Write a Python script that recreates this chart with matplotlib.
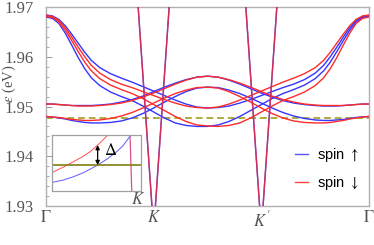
import matplotlib
matplotlib.use("Agg")
import matplotlib.pyplot as plt

plt.rcParams['mathtext.fontset'] = 'stix'
plt.rcParams['font.family'] = ['Liberation Serif', 'DejaVu Serif']

# ---------------- data ----------------
# k path: Gamma=0, K=1, K'=2, Gamma=3 ; left half of the path (0 .. 1.5)
k_half = [0.0, 0.06, 0.12, 0.18, 0.24, 0.30, 0.36, 0.42, 0.5, 0.6, 0.7,
          0.8, 0.9, 1.0, 1.1, 1.2, 1.3, 1.4, 1.5]

# spin-up (blue) bands on the left half
up_b1 = [1.9684, 1.9682, 1.9675, 1.9662, 1.9645, 1.9627, 1.9609, 1.9593, 1.9578, 1.9566,
         1.9557, 1.9549, 1.9540, 1.9531, 1.9522, 1.9513, 1.9505, 1.9499, 1.9497]
up_b2 = [1.9680, 1.9677, 1.9667, 1.9647, 1.9623, 1.9598, 1.9576, 1.9558, 1.9542, 1.9529,
         1.9520, 1.9512, 1.9501, 1.9489, 1.9477, 1.9467, 1.9462, 1.9460, 1.9460]
up_b3 = [1.9505, 1.9505, 1.9504, 1.9503, 1.9502, 1.9502, 1.9502, 1.9502, 1.9503, 1.9505,
         1.9509, 1.9514, 1.9521, 1.9530, 1.9539, 1.9547, 1.9554, 1.9559, 1.9561]
up_b4 = [1.9480, 1.9479, 1.9477, 1.9475, 1.9472, 1.9470, 1.9468, 1.9467, 1.9467, 1.9468,
         1.9471, 1.9477, 1.9486, 1.9497, 1.9509, 1.9520, 1.9530, 1.9537, 1.9539]
# spin-down (red) bands on the left half
dn_b1 = [1.9683, 1.9681, 1.9673, 1.9658, 1.9639, 1.9619, 1.9600, 1.9583, 1.9567, 1.9554,
         1.9545, 1.9538, 1.9530, 1.9522, 1.9514, 1.9507, 1.9501, 1.9498, 1.9497]
dn_b2 = [1.9681, 1.9679, 1.9670, 1.9653, 1.9632, 1.9610, 1.9589, 1.9572, 1.9556, 1.9543,
         1.9534, 1.9526, 1.9516, 1.9504, 1.9492, 1.9480, 1.9470, 1.9463, 1.9461]
dn_b3 = [1.9505, 1.9505, 1.9504, 1.9503, 1.9502, 1.9501, 1.9501, 1.9501, 1.9502, 1.9504,
         1.9507, 1.9512, 1.9519, 1.9527, 1.9536, 1.9545, 1.9553, 1.9559, 1.9561]
dn_b4 = [1.9480, 1.9479, 1.9478, 1.9476, 1.9474, 1.9473, 1.9472, 1.9472, 1.9473, 1.9476,
         1.9481, 1.9488, 1.9497, 1.9507, 1.9517, 1.9526, 1.9533, 1.9538, 1.9539]

# Dirac-like valley at K and K'
valley_k = [1.0, 2.0]
dirac_dk = [-0.16, 0.0, 0.16]
dirac_e = [1.9750, 1.9250, 1.9750]

fermi_level = 1.9476

tick_pos = [0, 1, 2, 3]
tick_lab = [r'$\Gamma$', r'$K$', r"$K'$", r'$\Gamma$']
y_ticks = [1.93, 1.94, 1.95, 1.96, 1.97]
y_tick_lab = ['1.93', '1.94', '1.95', '1.96', '1.97']
legend_labels = [r'spin $\uparrow$', r'spin $\downarrow$']

# inset (zoom near K), coordinates in inset-frame units
in_red_x = [0.0, 0.12, 0.237, 0.33, 0.427, 0.52, 0.615]
in_red_y = [0.33, 0.42, 0.52, 0.60, 0.70, 0.83, 0.98]
in_blue_x = [0.0, 0.12, 0.237, 0.36, 0.512, 0.62, 0.728, 0.80, 0.879]
in_blue_y = [0.15, 0.19, 0.25, 0.33, 0.46, 0.57, 0.70, 0.81, 0.98]
in_valley_x = [0.878, 0.898]
in_valley_y = [1.0, 0.0]
in_level = 0.46
in_gap_x = 0.512
in_gap_top = 0.82

BLUE = '#3535ff'
RED = '#ff2b2b'
GRAY = '#555555'

# time-reversal partner: spin-up at k equals spin-down at 3-k
k_full = k_half + [3 - k for k in reversed(k_half[:-1])]
up_bands = [(up_b1, dn_b1), (up_b2, dn_b2), (up_b3, dn_b3), (up_b4, dn_b4)]

fig = plt.figure(figsize=(3.74, 2.45), dpi=100)
ax = fig.add_axes([0.123, 0.159, 0.8636, 0.8124])

for ub, db in up_bands:
    ax.plot(k_full, ub + list(reversed(db[:-1])), color=BLUE, lw=1.0, zorder=3)
for ub, db in up_bands:
    ax.plot(k_full, db + list(reversed(ub[:-1])), color=RED, lw=1.0, zorder=4)

for kv in valley_k:
    ax.plot([kv + d for d in dirac_dk], dirac_e, color=BLUE, lw=1.0, zorder=5)
    ax.plot([kv + d for d in dirac_dk], dirac_e, color=RED, lw=1.0, alpha=0.78, zorder=6)

ax.axhline(fermi_level, color='#b0ab3a', lw=1.4, dashes=(3.5, 2.0), zorder=2)

ax.set_xlim(0, 3)
ax.set_ylim(1.93, 1.97)
ax.set_xticks(tick_pos)
ax.set_xticklabels(tick_lab)
ax.set_yticks(y_ticks)
ax.set_yticklabels(y_tick_lab)
ax.set_yticks([1.93 + 0.002 * i for i in range(21)], minor=True)
ax.tick_params(axis='y', which='major', direction='in', length=4, width=0.7,
               color='#999999', labelsize=12, labelcolor=GRAY, pad=9)
ax.tick_params(axis='y', which='minor', direction='in', length=2.2, width=0.6,
               color='#999999')
ax.tick_params(axis='x', which='both', length=0, labelsize=12, labelcolor=GRAY, pad=3)
for s in ax.spines.values():
    s.set_color('#b0b0b0')
    s.set_linewidth(1.0)
ax.set_ylabel(r'$\varepsilon$ (eV)', fontsize=10.5, color=GRAY)
ax.yaxis.set_label_coords(-0.088, 0.615)

h1, = ax.plot([], [], color='#5555ff', lw=1.0, label=legend_labels[0])
h2, = ax.plot([], [], color='#ff4444', lw=1.0, label=legend_labels[1])
leg = ax.legend(handles=[h1, h2], loc='center left', bbox_to_anchor=(0.771, 0.1867),
                frameon=False, borderpad=0, borderaxespad=0, handlelength=0.9,
                handletextpad=0.6, labelspacing=0.68,
                prop={'family': ['Liberation Sans', 'DejaVu Sans'], 'size': 10.5})

# inset
ins = fig.add_axes([0.140, 0.2216, 0.2364, 0.2273])
ins.plot(in_red_x, in_red_y, color='#ff5050', lw=0.7)
ins.plot(in_blue_x, in_blue_y, color='#5a5aff', lw=0.7)
ins.plot(in_valley_x, in_valley_y, color='#d8508a', lw=0.9)
ins.axhline(in_level, color='#7f7f10', lw=1.2)
ins.annotate('', xy=(in_gap_x, in_gap_top), xytext=(in_gap_x, in_level),
             arrowprops=dict(arrowstyle='<|-|>', color='black', lw=0.9,
                             shrinkA=0, shrinkB=0, mutation_scale=6))
ins.text(in_gap_x + 0.07, (in_gap_top + in_level) / 2 + 0.08, r'$\Delta$',
         fontsize=12, color='black', va='center', ha='left')
ins.set_xlim(0, 1)
ins.set_ylim(0, 1)
ins.set_xticks([0.97])
ins.set_xticklabels([r'$K$'])
ins.set_yticks([])
ins.tick_params(axis='x', length=0, labelsize=12, labelcolor=GRAY, pad=1)
for s in ins.spines.values():
    s.set_color('#a0a0a0')
    s.set_linewidth(0.9)

fig.savefig('out.png', dpi=100)
